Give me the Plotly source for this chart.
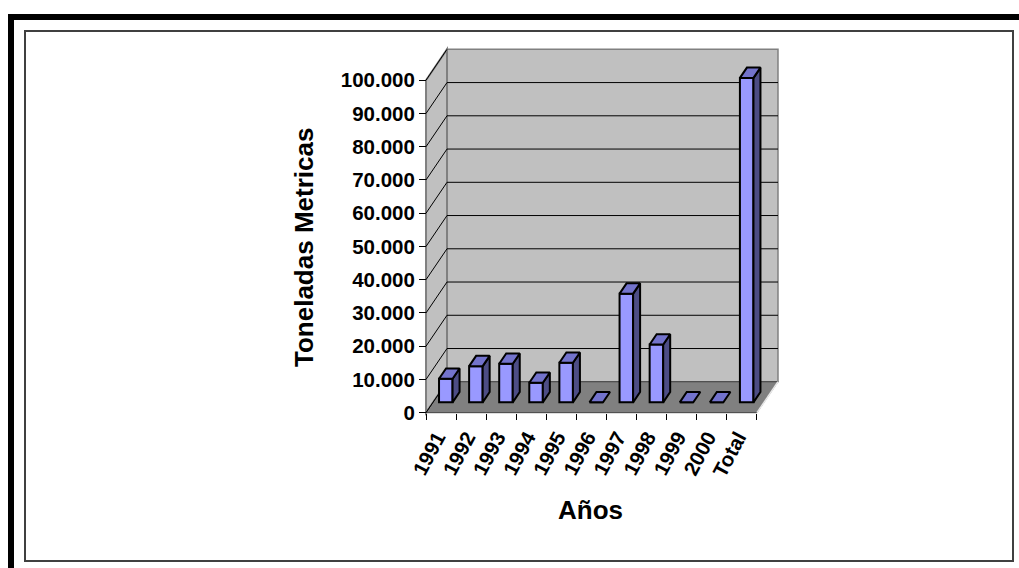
import plotly.graph_objects as go

# ---- data -------------------------------------------------------------
years = ["1991", "1992", "1993", "1994", "1995", "1996",
         "1997", "1998", "1999", "2000", "Total"]
tons = [7100, 10900, 11600, 5900, 11900, 0, 32700, 17400, 0, 0, 97600]

y_tick_vals = [0, 10000, 20000, 30000, 40000, 50000,
               60000, 70000, 80000, 90000, 100000]
y_tick_text = ["0", "10.000", "20.000", "30.000", "40.000", "50.000",
               "60.000", "70.000", "80.000", "90.000", "100.000"]

# ---- oblique 3-D look (depth expressed in axis units) -----------------
DEPTH_X = 0.698          # category units the back plane is shifted right
DEPTH_Y = 9300           # value units the back plane is shifted up
NEAR, FAR = 1 / 3, 2 / 3  # depth band occupied by the columns
BAR_LEFT, BAR_W = 0.2, 0.45

N = len(years)
X_RANGE = [-0.1, N + DEPTH_X + 0.1]
Y_RANGE = [-1000, 100000 + DEPTH_Y + 1000]

W, H = 1019, 568
ML, MR, MT, MB = 423, 238, 46, 152
PW, PH = W - ML - MR, H - MT - MB

FONT = "Liberation Sans, Arial, sans-serif"
FRONT, TOP, SIDE = "#9999FF", "#7373CC", "#4D4D85"
WALL, FLOOR = "#C0C0C0", "#808080"


def paper_x(px):
    return (px - ML) / PW


def paper_y(py):
    return (H - MB - py) / PH


fig = go.Figure()

# front faces of the columns
fig.add_trace(go.Bar(
    x=[i + BAR_LEFT + NEAR * DEPTH_X + BAR_W / 2 for i in range(N)],
    y=tons,
    base=NEAR * DEPTH_Y,
    width=BAR_W,
    marker=dict(color=FRONT, line=dict(color="black", width=2)),
    hoverinfo="skip",
    showlegend=False,
))

# top and right-side faces
for i, v in enumerate(tons):
    xl = i + BAR_LEFT
    xr = xl + BAR_W
    nx, ny = NEAR * DEPTH_X, NEAR * DEPTH_Y
    fx, fy = FAR * DEPTH_X, FAR * DEPTH_Y
    if v > 0:
        fig.add_trace(go.Scatter(
            x=[xr + nx, xr + fx, xr + fx, xr + nx, xr + nx],
            y=[ny, fy, v + fy, v + ny, ny],
            mode="lines", fill="toself", fillcolor=SIDE,
            line=dict(color="black", width=2),
            hoverinfo="skip", showlegend=False,
        ))
    fig.add_trace(go.Scatter(
        x=[xl + nx, xr + nx, xr + fx, xl + fx, xl + nx],
        y=[v + ny, v + ny, v + fy, v + fy, v + ny],
        mode="lines", fill="toself", fillcolor=TOP,
        line=dict(color="black", width=2),
        hoverinfo="skip", showlegend=False,
    ))

shapes = []
# back wall
shapes.append(dict(type="rect", xref="x", yref="y", layer="below",
                   x0=DEPTH_X, x1=N + DEPTH_X, y0=DEPTH_Y, y1=100000 + DEPTH_Y,
                   fillcolor=WALL, line=dict(color="#808080", width=1.5)))
# left wall
shapes.append(dict(type="path", xref="x", yref="y", layer="below",
                   path=f"M 0,0 L 0,100000 L {DEPTH_X},{100000 + DEPTH_Y} "
                        f"L {DEPTH_X},{DEPTH_Y} Z",
                   fillcolor=WALL, line=dict(color="#808080", width=2)))
# floor
shapes.append(dict(type="path", xref="x", yref="y", layer="below",
                   path=f"M 0,0 L {N},0 L {N + DEPTH_X},{DEPTH_Y} "
                        f"L {DEPTH_X},{DEPTH_Y} Z",
                   fillcolor=FLOOR, line=dict(color="#404040", width=1)))
shapes.append(dict(type="line", xref="x", yref="y", layer="below",
                   x0=N, y0=0, x1=N + DEPTH_X, y1=DEPTH_Y,
                   line=dict(color="#E8E8E8", width=1.5)))
# gridlines on the back wall and their continuation on the side wall
for v in y_tick_vals:
    if 0 < v < 100000:
        shapes.append(dict(type="line", xref="x", yref="y", layer="below",
                           x0=DEPTH_X, x1=N + DEPTH_X,
                           y0=v + DEPTH_Y, y1=v + DEPTH_Y,
                           line=dict(color="black", width=1)))
    shapes.append(dict(type="line", xref="x", yref="y", layer="below",
                       x0=0, y0=v, x1=DEPTH_X, y1=v + DEPTH_Y,
                       line=dict(color="black", width=1)))

# page frames
shapes.append(dict(type="rect", xref="paper", yref="paper", layer="above",
                   x0=paper_x(8), x1=paper_x(1030), y0=paper_y(20), y1=paper_y(14),
                   fillcolor="black", line=dict(width=0)))
shapes.append(dict(type="rect", xref="paper", yref="paper", layer="above",
                   x0=paper_x(8), x1=paper_x(14), y0=paper_y(580), y1=paper_y(14),
                   fillcolor="black", line=dict(width=0)))
shapes.append(dict(type="rect", xref="paper", yref="paper", layer="above",
                   x0=paper_x(25), x1=paper_x(1013), y0=paper_y(561), y1=paper_y(31),
                   fillcolor="rgba(0,0,0,0)", line=dict(color="#404040", width=2)))

title_font = dict(family=FONT, size=26, color="black", weight="bold")
tick_font = dict(family=FONT, size=20.5, color="black", weight="bold")

annotations = [
    dict(text="Toneladas Metricas", xref="paper", yref="paper",
         x=paper_x(304), y=paper_y(248), showarrow=False, textangle=-90,
         font=title_font, xanchor="center", yanchor="middle"),
    dict(text="Años", xref="paper", yref="paper",
         x=paper_x(590), y=paper_y(510), showarrow=False,
         font=title_font, xanchor="center", yanchor="middle"),
]

x_zero = (0 - X_RANGE[0]) / (X_RANGE[1] - X_RANGE[0])
y_zero = (0 - Y_RANGE[0]) / (Y_RANGE[1] - Y_RANGE[0])

fig.update_layout(
    width=W, height=H,
    margin=dict(l=ML, r=MR, t=MT, b=MB),
    paper_bgcolor="white", plot_bgcolor="rgba(0,0,0,0)",
    showlegend=False,
    shapes=shapes,
    annotations=annotations,
    xaxis=dict(
        range=X_RANGE, anchor="free", position=y_zero,
        tickmode="array", tickvals=[i + 0.5 for i in range(N)], ticktext=years,
        ticks="", tickangle=-62, tickfont=tick_font,
        ticklabelstandoff=8, ticklabelshift=-4,
        minor=dict(tickmode="array", tickvals=list(range(N + 1)),
                   ticks="outside", ticklen=6, tickcolor="black", tickwidth=1),
        showgrid=False, zeroline=False, showline=False, fixedrange=True,
    ),
    yaxis=dict(
        range=Y_RANGE, anchor="free", position=x_zero,
        tickmode="array", tickvals=y_tick_vals, ticktext=y_tick_text,
        ticks="outside", ticklen=7, tickcolor="black", tickwidth=1,
        tickfont=tick_font,
        showgrid=False, zeroline=False, showline=False, fixedrange=True,
    ),
)

fig.write_html("out.html")
